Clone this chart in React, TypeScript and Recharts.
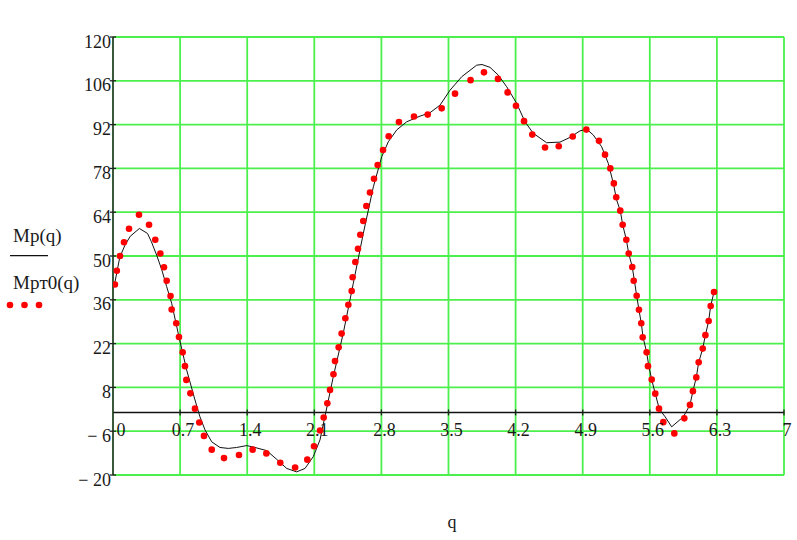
import React from "react";
import {
  ComposedChart,
  Line,
  Scatter,
  XAxis,
  YAxis,
  CartesianGrid,
  ReferenceLine,
} from "recharts";

// ---- data ----
const X_TICKS = [0, 0.7, 1.4, 2.1, 2.8, 3.5, 4.2, 4.9, 5.6, 6.3, 7];
const Y_TICKS = [-20, -6, 8, 22, 36, 50, 64, 78, 92, 106, 120];

// Mp(q) – solid black curve (q, value)
const MP_Q = [
  0.01, 0.07, 0.125, 0.18, 0.275, 0.36, 0.4, 0.455, 0.51, 0.56, 0.612, 0.688, 0.768, 0.855,
  0.907, 0.96, 1.03, 1.116, 1.203, 1.29, 1.395, 1.481, 1.603, 1.708, 1.812, 1.916, 2.003,
  2.09, 2.159, 2.22, 2.298, 2.402, 2.507, 2.611, 2.716, 2.803, 2.872, 2.96, 3.064, 3.203,
  3.307, 3.411, 3.516, 3.638, 3.794, 3.85, 3.933, 4.02, 4.107, 4.211, 4.298, 4.385, 4.524,
  4.663, 4.767, 4.872, 4.942, 5.01, 5.098, 5.167, 5.22, 5.254, 5.292, 5.317, 5.355, 5.38,
  5.417, 5.44, 5.463, 5.487, 5.511, 5.53, 5.567, 5.59, 5.62, 5.657, 5.7, 5.76, 5.828, 5.95,
  6.019, 6.05, 6.085, 6.11, 6.152, 6.18, 6.214, 6.235, 6.27,
];
const MP_V = [
  40, 49.5, 53.5, 56.3, 58.8, 57.2, 54.6, 50.3, 45.5, 40.2, 34.9, 24.2, 13.6, 4.0,
  -1.4, -5.6, -9.4, -11.2, -11.5, -11.2, -10.6, -11.2, -12.2, -15.0, -17.9, -19.0, -17.9,
  -14.1, -8.8, 0, 11.4, 25.3, 41.3, 57.2, 72.1, 81.7, 86.5, 90.3, 92.9, 94.7,
  95.8, 98.2, 103.0, 107.3, 111.0, 111.2, 110.3, 107.8, 104.1, 98.8, 92.9, 89.2, 86.2,
  86.4, 87.9, 90.0, 90.5, 88.7, 84.9, 79.6, 73.2, 67.9, 64.5, 60.0, 55.2, 50.8,
  46.5, 42.0, 37.3, 32.8, 28.5, 24.0, 19.2, 14.8, 10.5, 6.0, 1.0, -1.4, -4.6, -1.4,
  2.4, 6.8, 11.2, 16.0, 20.4, 24.7, 29.2, 34.0, 38.5,
];

// Mpт0(q) – red dots (q, value)
const MPT0_Q = [
  0.02, 0.04, 0.073, 0.115, 0.167, 0.271, 0.376, 0.441, 0.494, 0.532, 0.56, 0.6, 0.612,
  0.66, 0.688, 0.727, 0.751, 0.765, 0.807, 0.855, 0.9, 0.949, 1.03, 1.158, 1.314, 1.457,
  1.6, 1.745, 1.9, 2.027, 2.097, 2.16, 2.198, 2.236, 2.264, 2.3, 2.316, 2.354, 2.385,
  2.424, 2.455, 2.49, 2.5, 2.528, 2.556, 2.58, 2.611, 2.643, 2.681, 2.723, 2.761, 2.817,
  2.876, 2.983, 3.14, 3.283, 3.429, 3.568, 3.73, 3.87, 4.016, 4.117, 4.204, 4.288, 4.374,
  4.507, 4.65, 4.796, 4.938, 5.07, 5.133, 5.188, 5.225, 5.25, 5.292, 5.317, 5.355, 5.38,
  5.417, 5.432, 5.463, 5.487, 5.511, 5.526, 5.567, 5.581, 5.62, 5.657, 5.696, 5.741,
  5.856, 5.96, 6.019, 6.05, 6.085, 6.11, 6.152, 6.18, 6.214, 6.235, 6.27,
];
const MPT0_V = [
  40.9, 45.3, 50.0, 54.4, 58.7, 63.2, 60.0, 55.2, 50.8, 46.4, 42.1, 37.2, 32.9,
  28.5, 24.1, 19.2, 14.8, 10.4, 6.1, 1.2, -3.2, -7.5, -11.9, -14.6, -13.6, -11.9,
  -13.1, -16.1, -17.6, -15.1, -10.8, -5.8, -1.6, 2.9, 7.2, 12.2, 16.4, 20.8, 25.2,
  30.1, 34.4, 38.8, 43.2, 48.1, 52.3, 56.8, 61.2, 66.0, 70.3, 74.7, 79.1, 83.9,
  88.3, 92.8, 94.6, 95.2, 97.2, 101.9, 106.2, 108.7, 106.6, 102.3, 98.0, 93.1, 88.8,
  84.7, 85.1, 88.2, 90.4, 86.8, 82.4, 78.0, 73.2, 68.8, 64.5, 60.0, 55.2, 50.8,
  46.5, 42.1, 37.3, 32.8, 28.5, 24.0, 19.2, 14.8, 10.5, 6.0, 1.2, -3.1,
  -6.7, -1.9, 2.4, 6.8, 11.2, 16.0, 20.4, 24.7, 29.2, 34.0, 38.5,
];

const lineData = MP_Q.map((q, i) => ({ q, v: MP_V[i] }));
const dotData = MPT0_Q.map((q, i) => ({ q, v: MPT0_V[i] }));

// ---- layout ----
const W = 797;
const H = 540;
const PLOT_LEFT = 113;
const PLOT_TOP = 37;
const PLOT_RIGHT = 784;
const PLOT_BOTTOM = 475;
const Y_MIN = -20;
const Y_MAX = 120;
const FONT = "'Liberation Serif', 'Times New Roman', serif";
const TXT = "#1a1a1a";
const GRID = "#4cf04c";
const TICK_FS = 18;

const zeroY = PLOT_TOP + ((PLOT_BOTTOM - PLOT_TOP) * (Y_MAX - 0)) / (Y_MAX - Y_MIN);

const fmtY = (v: number) => (v < 0 ? "\u2212 " + Math.abs(v) : String(v));

const XTick = (props: any) => {
  const { x, payload } = props;
  const v = payload.value;
  return (
    <g>
      {v !== 0 && (
        <line x1={x} x2={x} y1={zeroY - 3} y2={zeroY + 3} stroke="#222" strokeWidth={1.3} />
      )}
      <text
        x={x + (v === 0 ? 8 : 3)}
        y={zeroY + 24}
        textAnchor="middle"
        fontFamily={FONT}
        fontSize={TICK_FS}
        fill={TXT}
      >
        {String(v)}
      </text>
    </g>
  );
};

const YTick = (props: any) => {
  const { y, payload } = props;
  return (
    <g>
      <line x1={PLOT_LEFT - 3} x2={PLOT_LEFT + 3} y1={y} y2={y} stroke="#222" strokeWidth={1.3} />
      <text
        x={PLOT_LEFT - 2}
        y={y + 10.5}
        textAnchor="end"
        fontFamily={FONT}
        fontSize={TICK_FS}
        fill={TXT}
      >
        {fmtY(payload.value)}
      </text>
    </g>
  );
};

const RedDot = (props: any) => <circle cx={props.cx} cy={props.cy} r={3.3} fill="#ff0000" />;

export default function App() {
  return (
    <div style={{ position: "absolute", left: 0, top: 0, width: W, height: H, background: "#fff" }}>
      <ComposedChart
        width={W}
        height={H}
        margin={{ top: PLOT_TOP, right: W - PLOT_RIGHT, bottom: H - PLOT_BOTTOM - 30, left: PLOT_LEFT - 60 }}
      >
        <CartesianGrid stroke={GRID} strokeWidth={1.8} horizontal vertical />
        <XAxis
          type="number"
          dataKey="q"
          domain={[0, 7]}
          ticks={X_TICKS}
          interval={0}
          axisLine={false}
          tickLine={false}
          tick={<XTick />}
          height={30}
          allowDataOverflow
        />
        <YAxis
          type="number"
          dataKey="v"
          domain={[Y_MIN, Y_MAX]}
          ticks={Y_TICKS}
          interval={0}
          width={60}
          axisLine={{ stroke: "#333", strokeWidth: 1.6 }}
          tickLine={false}
          tick={<YTick />}
          allowDataOverflow
        />
        <ReferenceLine y={0} stroke="#111" strokeWidth={1.5} />
        <Line
          data={lineData}
          dataKey="v"
          type="linear"
          stroke="#111"
          strokeWidth={1}
          dot={false}
          activeDot={false}
          isAnimationActive={false}
        />
        <Scatter data={dotData} dataKey="v" shape={<RedDot />} isAnimationActive={false} />
      </ComposedChart>
      <svg
        width={W}
        height={H}
        style={{ position: "absolute", left: 0, top: 0, pointerEvents: "none" }}
      >
        <text x={13} y={242} fontFamily={FONT} fontSize={19} fill={TXT}>
          Mp(q)
        </text>
        <line x1={10} x2={48} y1={255.7} y2={255.7} stroke="#111" strokeWidth={1.2} />
        <text x={13} y={289} fontFamily={FONT} fontSize={19} fill={TXT}>
          Mpт0(q)
        </text>
        <circle cx={10} cy={305} r={3.3} fill="#ff0000" />
        <circle cx={24.5} cy={305} r={3.3} fill="#ff0000" />
        <circle cx={39} cy={305} r={3.3} fill="#ff0000" />
        <text x={452} y={528} textAnchor="middle" fontFamily={FONT} fontSize={18} fill={TXT}>
          q
        </text>
      </svg>
    </div>
  );
}
